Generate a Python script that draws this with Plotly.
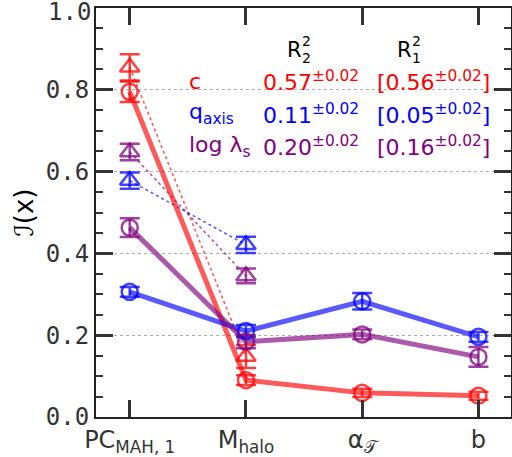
import plotly.graph_objects as go

# ---- data ----
features = ["PC<sub>MAH, 1</sub>", "M<sub>halo</sub>", "α<sub>𝒯</sub>", "b"]
x_idx = [0, 1, 2, 3]

# R2^2 (circles, solid lines)
c_r2 = [0.795, 0.090, 0.059, 0.052]
c_r2_err = [0.025, 0.012, 0.010, 0.010]
q_r2 = [0.306, 0.210, 0.283, 0.196]
q_r2_err = [0.012, 0.015, 0.020, 0.012]
l_r2 = [0.463, 0.184, 0.202, 0.147]
l_r2_err = [0.023, 0.016, 0.012, 0.024]

# R1^2 (triangles, dotted lines) - only first two features
x_tri = [0, 1]
c_r1 = [0.855, 0.148]
c_r1_err = [0.032, 0.028]
q_r1 = [0.578, 0.421]
q_r1_err = [0.020, 0.020]
l_r1 = [0.648, 0.345]
l_r1_err = [0.020, 0.018]

series_names = ["c", "q<sub>axis</sub>", "log λ<sub>s</sub>"]
r2_text = ["0.57<sup>±0.02</sup>", "0.11<sup>±0.02</sup>", "0.20<sup>±0.02</sup>"]
r1_text = ["[0.56<sup>±0.02</sup>]", "[0.05<sup>±0.02</sup>]", "[0.16<sup>±0.02</sup>]"]
y_ticks = [0, 0.2, 0.4, 0.6, 0.8, 1.0]
y_ticktext = ["0.0", "0.2", "0.4", "0.6", "0.8", ""]
top_label = "1.0"

colors = ["#ff0000", "#0000ff", "#800080"]
line_cols = ["rgba(255,0,0,0.65)", "rgba(0,0,255,0.65)", "rgba(128,0,128,0.65)"]
mark_cols = ["rgba(255,0,0,0.75)", "rgba(0,0,255,0.75)", "rgba(128,0,128,0.75)"]

fig = go.Figure()

r2_sets = [(c_r2, c_r2_err), (q_r2, q_r2_err), (l_r2, l_r2_err)]
r1_sets = [(c_r1, c_r1_err), (q_r1, q_r1_err), (l_r1, l_r1_err)]

# dotted lines for triangles
for (v, e), lc in zip(r1_sets, line_cols):
    fig.add_trace(go.Scatter(x=x_tri, y=v, mode="lines",
                             line=dict(color=lc, width=1.6, dash="dot"),
                             showlegend=False, hoverinfo="skip"))
# solid lines for circles
for (v, e), lc in zip(r2_sets, line_cols):
    fig.add_trace(go.Scatter(x=x_idx, y=v, mode="lines",
                             line=dict(color=lc, width=5),
                             showlegend=False, hoverinfo="skip"))
# triangle markers
for (v, e), mc in zip(r1_sets, mark_cols):
    fig.add_trace(go.Scatter(x=x_tri, y=v, mode="markers",
                             marker=dict(symbol="triangle-up-open", size=17,
                                         color=mc, line=dict(width=2.5, color=mc)),
                             error_y=dict(type="data", array=e, color=mc,
                                          thickness=2.5, width=10),
                             showlegend=False))
# circle markers
for (v, e), mc in zip(r2_sets, mark_cols):
    fig.add_trace(go.Scatter(x=x_idx, y=v, mode="markers",
                             marker=dict(symbol="circle-open", size=16,
                                         color=mc, line=dict(width=2.5, color=mc)),
                             error_y=dict(type="data", array=e, color=mc,
                                          thickness=2.5, width=10),
                             showlegend=False))

L, R, T, B = 96, 1, 8, 40
W, H = 512, 457
pw, ph = W - L - R, H - T - B

def px(xp):
    return (xp - L) / pw

def py(yp):
    return (H - B - yp) / ph

ann = []
txtfont = "DejaVu Sans"
# header R^2 labels
for xr, sub in [(285, "2"), (395, "1")]:
    ann.append(dict(x=px(xr), y=py(50), text="R", xanchor="left", yanchor="middle",
                    font=dict(family=txtfont, size=21, color="black")))
    ann.append(dict(x=px(xr + 15), y=py(41), text="2", xanchor="left", yanchor="middle",
                    font=dict(family=txtfont, size=14, color="black")))
    ann.append(dict(x=px(xr + 15), y=py(58), text=sub, xanchor="left", yanchor="middle",
                    font=dict(family=txtfont, size=14, color="black")))

rows_y = [81, 114, 146]
for name, t2, t1, col, yy in zip(series_names, r2_text, r1_text, colors, rows_y):
    ann.append(dict(x=px(187), y=py(yy), text=name, xanchor="left", yanchor="middle",
                    font=dict(family=txtfont, size=22, color=col)))
    ann.append(dict(x=px(261), y=py(yy), text=t2, xanchor="left", yanchor="middle",
                    font=dict(family=txtfont, size=22, color=col)))
    ann.append(dict(x=px(375), y=py(yy), text=t1, xanchor="left", yanchor="middle",
                    font=dict(family=txtfont, size=22, color=col)))

# top y tick label, placed so it stays inside the picture
ann.append(dict(x=px(92), y=py(0), text=top_label, xanchor="right", yanchor="top",
                height=22, valign="middle", borderpad=0,
                font=dict(family="DejaVu Sans Mono", size=24, color="#333333")))

for a in ann:
    a.update(xref="paper", yref="paper", showarrow=False)

fig.update_layout(
    width=W, height=H,
    margin=dict(l=L, r=R, t=T, b=B, pad=0, autoexpand=False),
    plot_bgcolor="white", paper_bgcolor="white",
    annotations=ann,
    xaxis=dict(range=[-0.29, 3.28], tickvals=x_idx, ticktext=features,
               ticks="inside", ticklen=17, tickwidth=3, tickcolor="#333333",
               showline=True, linecolor="#222222", linewidth=2, mirror="ticks",
               showgrid=False, zeroline=False, ticklabeloverflow="allow",
               automargin=False,
               tickfont=dict(family="DejaVu Sans", size=24, color="#333333")),
    yaxis=dict(range=[0, 1.0], tickvals=y_ticks, ticktext=y_ticktext,
               ticks="inside", ticklen=17, tickwidth=3, tickcolor="#333333",
               showline=True, linecolor="#222222", linewidth=2, mirror="ticks",
               showgrid=True, gridcolor="#b0b0b0", gridwidth=1, griddash="dot",
               zeroline=False, ticklabeloverflow="allow", automargin=False,
               minor=dict(dtick=0.05, ticks="inside", ticklen=7, tickwidth=2,
                          tickcolor="#333333", showgrid=False),
               tickfont=dict(family="DejaVu Sans Mono", size=24, color="#333333"),
               title=dict(text="ℐ(x)", font=dict(family="DejaVu Sans", size=26, color="black"),
                          standoff=5)),
)

fig.write_html("out.html")
